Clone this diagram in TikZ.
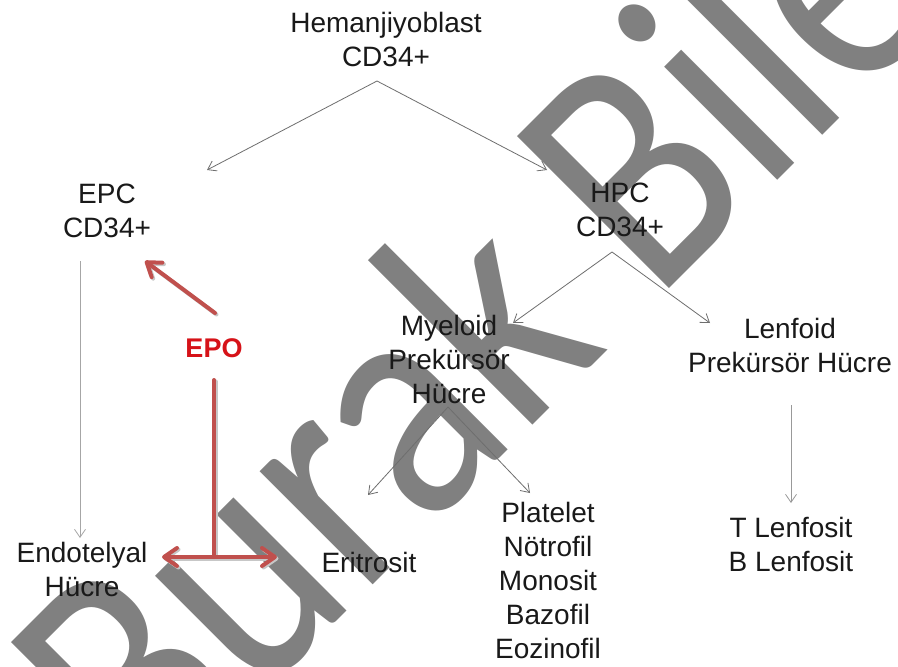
\documentclass[tikz,border=0pt]{standalone}
\usepackage{fontspec}
\setmainfont{Liberation Sans}
\newfontfamily\wmfont{Carlito}
\usepackage{graphicx}
\usetikzlibrary{arrows.meta}
\definecolor{conn}{RGB}{110,110,110}
\definecolor{redarr}{RGB}{192,80,77}
\definecolor{epored}{RGB}{214,18,24}
\newcommand\mlines[1]{\vtop{\halign{\hfil##\hfil\cr#1\crcr}}}
\begin{document}
\begin{tikzpicture}[x=1pt,y=-1pt,
  redtip/.tip={Straight Barb[length=13pt,width=18pt,round]},
  lbl/.style={anchor=base,inner sep=0pt,font=\fontsize{28}{34}\selectfont,text=black!90},
  thinarrow/.style={draw=conn,line width=0.8pt,-{Straight Barb[length=8pt,width=11pt]}},
  redline/.style={draw=redarr,line width=4pt,line cap=round},
  redshadow/.style={draw=black!22,line width=4pt,line cap=round},
  watermark/.style={rotate=45,anchor=base west,inner sep=0pt,text=black!50,font=\wmfont\fontsize{335}{335}\selectfont}]
\useasboundingbox (0,0) rectangle (898,667);
\fill[white] (0,0) rectangle (898,667);
\begin{scope}
\clip (0,0) rectangle (898,667);
\node[watermark] (wm) at (149,809) {\scalebox{0.836}[1]{Burak Bile}};
\end{scope}

% text nodes
\node[lbl] (hem) at (386,32) {\mlines{Hemanjiyoblast\cr CD34+}};
\node[lbl] (epc) at (107,203) {\mlines{EPC\cr CD34+}};
\node[lbl] (hpc) at (620,202) {\mlines{HPC\cr CD34+}};
\node[lbl] (mye) at (449,335) {\mlines{Myeloid\cr Prekürsör\cr Hücre}};
\node[lbl] (lenf) at (790,338) {\mlines{Lenfoid\cr Prekürsör Hücre}};
\node[lbl] (endo) at (82,562) {\mlines{Endotelyal\cr Hücre}};
\node[lbl] (eri) at (369,572) {Eritrosit};
\node[lbl] (plt) at (548,522) {\mlines{Platelet\cr Nötrofil\cr Monosit\cr Bazofil\cr Eozinofil}};
\node[lbl] (tl) at (791,537) {\mlines{T Lenfosit\cr B Lenfosit}};
\node[anchor=base,inner sep=0pt,font=\bfseries\fontsize{27}{30}\selectfont,text=epored] (epo) at (214,357) {EPO};

% connector end points
\coordinate (hemA) at (377,81);
\coordinate (epcT) at (207,170);
\coordinate (hpcT) at (547,170);
\coordinate (epcB) at (80,261);
\coordinate (endoT) at (80,538);
\coordinate (hpcA) at (612,252);
\coordinate (myeT) at (513,323);
\coordinate (lenfT) at (710,323);
\coordinate (myeA) at (448,407);
\coordinate (eriT) at (368,495);
\coordinate (pltT) at (530,493);
\coordinate (lenfB) at (791,405);
\coordinate (tlT) at (791,503);

\draw[thinarrow] (hemA) -- (epcT);
\draw[thinarrow] (hemA) -- (hpcT);
\draw[thinarrow,draw=black!35] (epcB) -- (endoT);
\draw[thinarrow] (hpcA) -- (myeT);
\draw[thinarrow] (hpcA) -- (lenfT);
\draw[thinarrow] (myeA) -- (eriT);
\draw[thinarrow] (myeA) -- (pltT);
\draw[thinarrow,draw=black!40] (lenfB) -- (tlT);

% EPO arrows
\coordinate (epoA) at (215,313);
\coordinate (epcR) at (145,261);
\coordinate (epoV) at (214,380);
\coordinate (epoJ) at (214,557);
\coordinate (endoR) at (162,557);
\coordinate (eriR) at (277,557);

\draw[redshadow,-redtip] ([shift={(1.5,1.5)}]epoA) -- ([shift={(1.5,1.5)}]epcR);
\draw[redshadow] ([shift={(1.5,1.5)}]epoV) -- ([shift={(1.5,1.5)}]epoJ);
\draw[redshadow,redtip-redtip] ([shift={(1.5,1.5)}]endoR) -- ([shift={(1.5,1.5)}]eriR);

\draw[redline,-redtip] (epoA) -- (epcR);
\draw[redline] (epoV) -- (epoJ);
\draw[redline,redtip-redtip] (endoR) -- (eriR);
\end{tikzpicture}
\end{document}
